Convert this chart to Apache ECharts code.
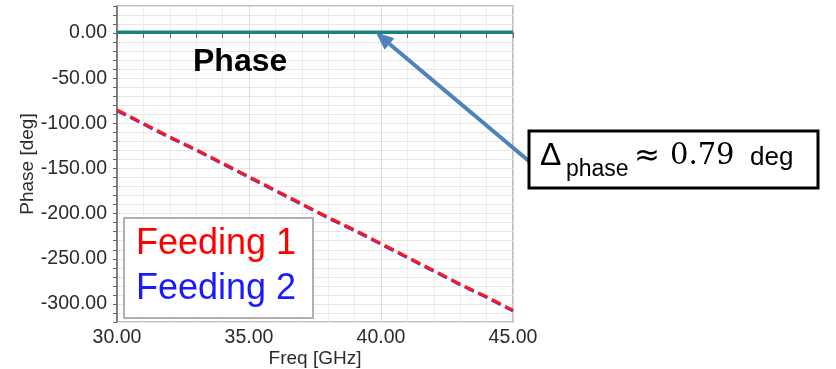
<!DOCTYPE html>
<html>
<head>
<meta charset="utf-8">
<script src="https://cdn.jsdelivr.net/npm/echarts@6/dist/echarts.min.js"></script>
<style>
  html, body { margin: 0; padding: 0; background: #fff; }
  #chart { width: 836px; height: 369px; }
</style>
</head>
<body>
<div id="chart"></div>
<script>
// frequency samples [GHz]
var freq = [30, 31, 32, 33, 34, 35, 36, 37, 38, 39, 40, 41, 42, 43, 44, 45];
// phase of each feeding [deg]
var feeding1 = [-85, -100, -115, -129, -144, -159, -174, -189, -204, -218, -233, -248, -263, -278, -292, -307];
var feeding2 = [-85.8, -100.8, -115.8, -129.8, -144.8, -159.8, -174.8, -189.8, -204.8, -218.8, -233.8, -248.8, -263.8, -278.8, -292.8, -307.8];
// phase difference between the two feedings [deg]
var phaseDiff = [0.8, 0.8, 0.8, 0.8, 0.8, 0.8, 0.8, 0.8, 0.8, 0.8, 0.8, 0.8, 0.8, 0.8, 0.8, 0.8];
var yLabels = [0, -50, -100, -150, -200, -250, -300];

function pairs(ys) {
  return freq.map(function (f, i) { return [f, ys[i]]; });
}

var chart = echarts.init(document.getElementById('chart'));

var sans = '"Liberation Sans", Arial, sans-serif';
var labelFont = { fontFamily: sans, fontSize: 19.5, color: '#2b2b2b' };

chart.setOption({
  animation: false,
  grid: {
    left: 117, right: 323, top: 6, bottom: 47,
    containLabel: false, outerBoundsMode: 'none',
    show: true, borderColor: '#a6a6a6', borderWidth: 1.5
  },
  xAxis: {
    type: 'value', min: 30, max: 45, interval: 5,
    name: 'Freq [GHz]', nameLocation: 'middle', nameGap: 27, nameMoveOverlap: false,
    nameTextStyle: { fontFamily: sans, fontSize: 19, color: '#2b2b2b', verticalAlign: 'top' },
    axisLine: { show: true, lineStyle: { color: '#666', width: 1.5 } },
    axisTick: { show: true, length: 5, lineStyle: { color: '#666' } },
    minorTick: { show: true, splitNumber: 5, length: 5, lineStyle: { color: '#666' } },
    splitLine: { show: true, lineStyle: { color: '#dcdcdc', width: 1 } },
    minorSplitLine: { show: true, lineStyle: { color: '#ececec', width: 1 } },
    axisLabel: Object.assign({ margin: 6, formatter: function (v) { return v.toFixed(2); } }, labelFont)
  },
  yAxis: {
    type: 'value', min: -320, max: 30, interval: 10,
    name: 'Phase [deg]', nameLocation: 'middle', nameGap: 80, nameRotate: 90,
    nameTextStyle: { fontFamily: sans, fontSize: 19, color: '#2b2b2b' },
    axisLine: { show: true, lineStyle: { color: '#666', width: 1.5 } },
    axisTick: { show: true, length: 4, lineStyle: { color: '#666' } },
    splitLine: { show: true, lineStyle: { color: '#e6e6e6', width: 1 } },
    axisLabel: Object.assign({
      margin: 10,
      formatter: function (v) {
        return yLabels.indexOf(v) >= 0 ? v.toFixed(2) : '';
      }
    }, labelFont)
  },
  series: [
    {
      name: 'Phase difference', type: 'line', data: pairs(phaseDiff),
      showSymbol: false, lineStyle: { color: '#16857f', width: 3.5 }, z: 3
    },
    {
      name: 'Feeding 2', type: 'line', data: pairs(feeding2),
      showSymbol: false, lineStyle: { color: '#2a2aff', width: 3, type: [10, 5] }, z: 4
    },
    {
      name: 'Feeding 1', type: 'line', data: pairs(feeding1),
      showSymbol: false, lineStyle: { color: '#ff1a1a', width: 3, type: [10, 5] }, z: 5
    }
  ]
});

// arrow pointing at the phase difference trace near 40 GHz
var tip = chart.convertToPixel({ gridIndex: 0 }, [39.8, 0.8]);
var tail = [530, 162];
var dx = tail[0] - tip[0], dy = tail[1] - tip[1];
var len = Math.sqrt(dx * dx + dy * dy);
var ux = dx / len, uy = dy / len;
var headLen = 18, headHalf = 7.5;
var base = [tip[0] + ux * headLen, tip[1] + uy * headLen];

chart.setOption({
  graphic: [
    {
      type: 'text', left: 193, top: 46, z: 10,
      style: { text: 'Phase', font: 'bold 32px ' + sans, fill: '#000' }
    },
    {
      type: 'rect', z: 10,
      shape: { x: 124, y: 218, width: 189, height: 100 },
      style: { fill: '#fff', stroke: '#b0b0b0', lineWidth: 2 }
    },
    {
      type: 'text', left: 136, top: 226, z: 11,
      style: { text: 'Feeding 1', font: '36px ' + sans, fill: '#ff0000' }
    },
    {
      type: 'text', left: 136, top: 271, z: 11,
      style: { text: 'Feeding 2', font: '36px ' + sans, fill: '#1a1aff' }
    },
    {
      type: 'line', z: 10,
      shape: { x1: base[0], y1: base[1], x2: tail[0], y2: tail[1] },
      style: { stroke: '#4f81bd', lineWidth: 4 }
    },
    {
      type: 'polygon', z: 10,
      shape: {
        points: [
          tip,
          [base[0] - uy * headHalf, base[1] + ux * headHalf],
          [base[0] + uy * headHalf, base[1] - ux * headHalf]
        ]
      },
      style: { fill: '#4f81bd' }
    },
    {
      type: 'rect', z: 12,
      shape: { x: 529, y: 131, width: 289, height: 57 },
      style: { fill: '#fff', stroke: '#000', lineWidth: 3 }
    },
    {
      type: 'text', left: 540, top: 140, z: 13,
      style: { text: 'Δ', font: '32px ' + sans, fill: '#000' }
    },
    {
      type: 'text', left: 566, top: 158, z: 13,
      style: { text: 'phase', font: '23px ' + sans, fill: '#000' }
    },
    {
      type: 'text', left: 634, top: 141, z: 13,
      style: { text: '≈', font: '31px "DejaVu Sans", sans-serif', fill: '#000' }
    },
    {
      type: 'text', left: 670, top: 142, z: 13,
      style: { text: '0.79', font: '29px "DejaVu Serif", serif', fill: '#000' }
    },
    {
      type: 'text', left: 750, top: 145, z: 13,
      style: { text: 'deg', font: '26px ' + sans, fill: '#000' }
    }
  ]
});
</script>
</body>
</html>
